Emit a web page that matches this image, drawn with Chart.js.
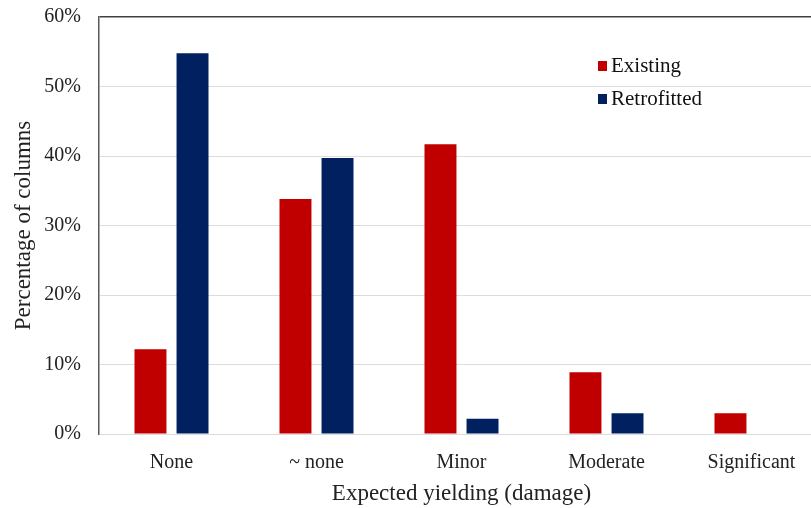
<!DOCTYPE html>
<html>
<head>
<meta charset="utf-8">
<script src="https://cdn.jsdelivr.net/npm/chart.js@4/dist/chart.umd.min.js"></script>
<style>
  html, body { margin: 0; padding: 0; overflow: hidden; background: #fff; }
  canvas { display: block; }
</style>
</head>
<body>
<canvas id="chart" width="830" height="508"></canvas>
<script>
// Données
const categories = ['None', '~ none', 'Minor', 'Moderate', 'Significant'];
const existing = [12.2, 33.8, 41.7, 8.9, 3.0];
const retrofitted = [54.8, 39.7, 2.2, 3.0, 0];
const yTicks = [0, 10, 20, 30, 40, 50, 60];

const fontFamily = '"Liberation Serif", "Times New Roman", serif';

// Légende dessinée à l'intérieur du graphique (en haut à droite)
const insideLegend = {
    id: 'insideLegend',
    afterDraw(chart) {
        const ctx = chart.ctx;
        ctx.save();
        ctx.font = '21px ' + fontFamily;
        ctx.textBaseline = 'middle';
        chart.data.datasets.forEach((ds, i) => {
            const y = 65 + i * 33;
            ctx.fillStyle = ds.backgroundColor;
            ctx.fillRect(598, y - 4, 9, 10);
            ctx.fillStyle = '#111';
            ctx.fillText(ds.label, 611, y + 1);
        });
        ctx.restore();
    }
};

new Chart(document.getElementById('chart').getContext('2d'), {
    type: 'bar',
    data: {
        labels: categories,
        datasets: [
            { label: 'Existing', data: existing, backgroundColor: '#C00000' },
            { label: 'Retrofitted', data: retrofitted, backgroundColor: '#002060' }
        ]
    },
    options: {
        responsive: false,
        animation: false,
        categoryPercentage: 0.58,
        barPercentage: 0.76,
        layout: { padding: { top: 17, right: 6, left: 0, bottom: 0 } },
        plugins: {
            legend: { display: false },
            tooltip: { enabled: false }
        },
        scales: {
            x: {
                grid: { display: false, drawTicks: false },
                border: { display: false },
                ticks: {
                    color: '#222',
                    font: { family: fontFamily, size: 20 },
                    padding: 17,
                    maxRotation: 0
                },
                title: {
                    display: true,
                    text: 'Expected yielding (damage)',
                    color: '#222',
                    font: { family: fontFamily, size: 23 },
                    padding: { top: 4, bottom: 0 }
                },
                afterFit(scale) { scale.height = 74; }
            },
            y: {
                min: 0,
                max: 60,
                afterBuildTicks(scale) {
                    scale.ticks = yTicks.map(v => ({ value: v }));
                },
                ticks: {
                    color: '#222',
                    font: { family: fontFamily, size: 20 },
                    padding: 18,
                    callback: v => v + '%'
                },
                grid: {
                    drawTicks: false,
                    color: ctx => ctx.tick && ctx.tick.value === 60 ? '#404040' : '#DCDCDC',
                    lineWidth: ctx => ctx.tick && ctx.tick.value === 60 ? 1.5 : 1
                },
                border: { display: true, color: '#595959', width: 1.5 },
                title: {
                    display: true,
                    text: 'Percentage of columns',
                    color: '#222',
                    font: { family: fontFamily, size: 23 },
                    padding: { top: 10, bottom: 0 }
                },
                afterFit(scale) {
                    scale.width = 99;
                    scale.paddingTop = 0;
                    scale.paddingBottom = 0;
                }
            }
        }
    },
    plugins: [insideLegend]
});
</script>
</body>
</html>
